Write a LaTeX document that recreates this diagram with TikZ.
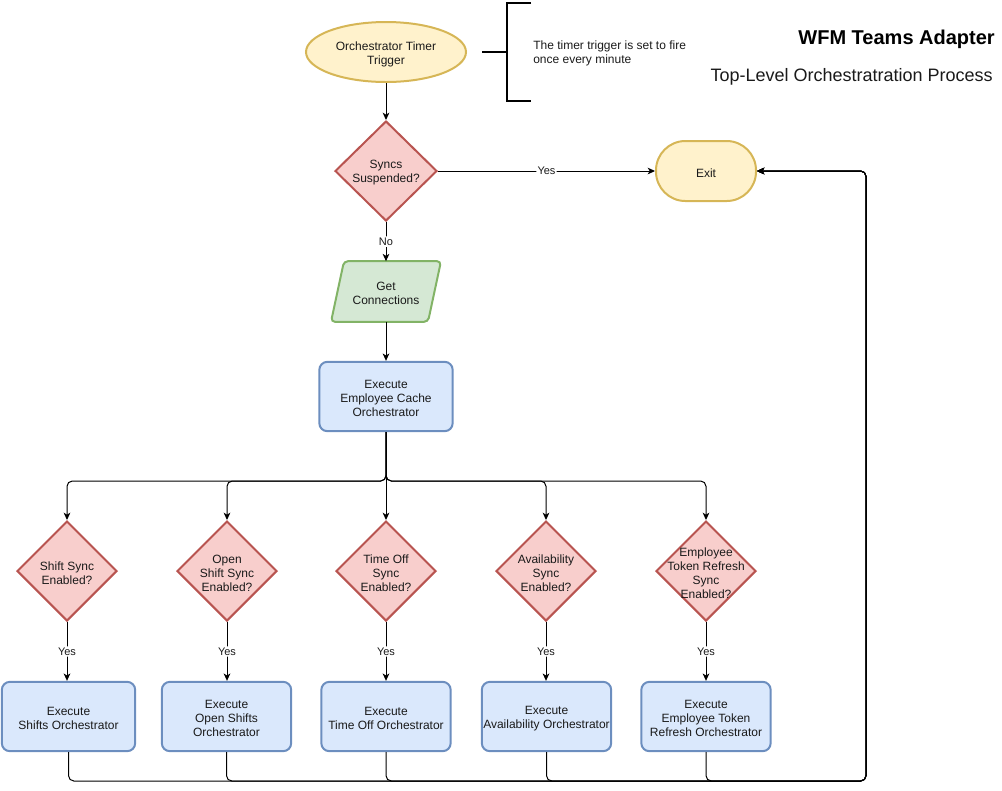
\documentclass[tikz,border=0pt]{standalone}
\usepackage{fontspec}
\setmainfont{Liberation Sans}
\usetikzlibrary{arrows.meta,shapes.geometric,backgrounds}

% draw.io palette
\definecolor{yelF}{HTML}{FFF2CC}\definecolor{yelD}{HTML}{D6B656}
\definecolor{redF}{HTML}{F8CECC}\definecolor{redD}{HTML}{B85450}
\definecolor{grnF}{HTML}{D5E8D4}\definecolor{grnD}{HTML}{82B366}
\definecolor{bluF}{HTML}{DAE8FC}\definecolor{bluD}{HTML}{6C8EBF}
\definecolor{ink}{HTML}{1A1A1A}

\tikzset{
  base/.style={inner sep=0pt, line width=1.5pt},
  % centred caption of a shape, set slightly below the geometric centre
  txt/.style={font=\fontsize{9}{10.5}\selectfont, text=ink, align=center, inner sep=0pt, yshift=-1.5pt},
  startend/.style={base, ellipse, draw=yelD, fill=yelF, minimum width=120pt, minimum height=45pt},
  terminal/.style={base, rectangle, rounded corners=22pt, draw=yelD, fill=yelF, minimum width=75pt, minimum height=45pt},
  decision/.style={base, diamond, draw=redD, fill=redF, minimum width=75pt, minimum height=75pt},
  process/.style={base, rectangle, rounded corners=6pt, draw=bluD, fill=bluF, minimum width=97pt, minimum height=52pt},
  iobox/.style={base, rectangle, minimum width=81pt, minimum height=44pt},
  edge/.style={line width=0.75pt, -{Stealth[length=5.5pt,width=5pt,inset=1.5pt]}, rounded corners=4pt},
  lbl/.style={font=\fontsize{8.25}{9.5}\selectfont, text=ink, fill=white, inner sep=1pt},
  note/.style={font=\fontsize{9}{10.5}\selectfont, text=ink, align=left, inner sep=0pt},
}

\begin{document}
\begin{tikzpicture}[x=0.75pt, y=-0.75pt]
\useasboundingbox (0,0) rectangle (1002,790);

% headings
\node[anchor=east, inner sep=0pt, font=\fontsize{15}{18}\bfseries] (title) at (995,39) {WFM Teams Adapter};
\node[anchor=east, inner sep=0pt, text=ink, font=\fontsize{13.5}{16}\selectfont] (subtitle) at (993,77) {Top-Level Orchestratration Process};

% trigger and its annotation bracket
\node[startend, label={[txt]center:Orchestrator Timer\\Trigger}] (timer) at (386,52) {};
\coordinate (brk) at (507,52);
\draw[line width=1.5pt] (531,3) -- (507,3) -- (507,101) -- (531,101);
\draw[line width=1.5pt] (482,52) -- (brk);
\node[note, anchor=west] (notetext) at (533,53.5) {The timer trigger is set to fire\\once every minute};

% main column
\node[decision, minimum width=76.5pt, label={[txt]center:Syncs\\Suspended?}] (sus) at (386,171) {};
\node[terminal, label={[txt]center:Exit}] (exit) at (706,171) {};
\node[iobox, label={[txt]center:Get\\Connections}] (conn) at (386,291.5) {};
\begin{scope}[on background layer]
  \draw[line width=1.5pt, draw=grnD, fill=grnF, rounded corners=3pt]
    ([xshift=9.75pt]conn.north west) -- (conn.north east)
    -- ([xshift=-9.75pt]conn.south east) -- (conn.south west) -- cycle;
\end{scope}
\node[process, minimum width=100pt, label={[txt]center:Execute\\Employee Cache\\Orchestrator}] (cache) at (386,396.5) {};

% per-sync decisions
\node[decision, label={[txt]center:Shift Sync\\Enabled?}] (d1) at (67,571) {};
\node[decision, label={[txt]center:Open\\Shift Sync\\Enabled?}] (d2) at (227,571) {};
\node[decision, label={[txt]center:Time Off\\Sync\\Enabled?}] (d3) at (386,571) {};
\node[decision, label={[txt]center:Availability\\Sync\\Enabled?}] (d4) at (546,571) {};
\node[decision, label={[txt]center:Employee\\Token Refresh\\Sync\\Enabled?}] (d5) at (706,571) {};

% orchestrators
\node[process, minimum width=100pt, label={[txt]center:Execute\\Shifts Orchestrator}] (b1) at (68.5,716.5) {};
\node[process, label={[txt]center:Execute\\Open Shifts\\Orchestrator}] (b2) at (226.5,716.5) {};
\node[process, label={[txt]center:Execute\\Time Off Orchestrator}] (b3) at (386,716.5) {};
\node[process, label={[txt]center:Execute\\Availability Orchestrator}] (b4) at (546.5,716.5) {};
\node[process, label={[txt]center:Execute\\Employee Token\\Refresh Orchestrator}] (b5) at (706,716.5) {};

% routing points
\coordinate (split) at (386,481);
\coordinate (back) at (866,781);

% connectors
\draw[edge] (timer) -- (sus);
\draw[edge] (sus) -- node[lbl] {Yes} (exit);
\draw[edge] (sus) -- node[lbl] {No} (conn);
\draw[edge] (conn) -- (cache);

\draw[edge] (cache.south) -- (split) -| (d1.north);
\draw[edge] (cache.south) -- (split) -| (d2.north);
\draw[edge] (cache.south) -- (d3.north);
\draw[edge] (cache.south) -- (split) -| (d4.north);
\draw[edge] (cache.south) -- (split) -| (d5.north);

\draw[edge] (d1.south) -- node[lbl] {Yes} (b1.north -| d1.south);
\draw[edge] (d2.south) -- node[lbl] {Yes} (b2.north -| d2.south);
\draw[edge] (d3.south) -- node[lbl] {Yes} (b3.north);
\draw[edge] (d4.south) -- node[lbl] {Yes} (b4.north -| d4.south);
\draw[edge] (d5.south) -- node[lbl] {Yes} (b5.north);

\foreach \b in {b1,b2,b3,b4,b5}
  \draw[edge] (\b.south) |- (back) |- (exit.east);
\end{tikzpicture}
\end{document}
